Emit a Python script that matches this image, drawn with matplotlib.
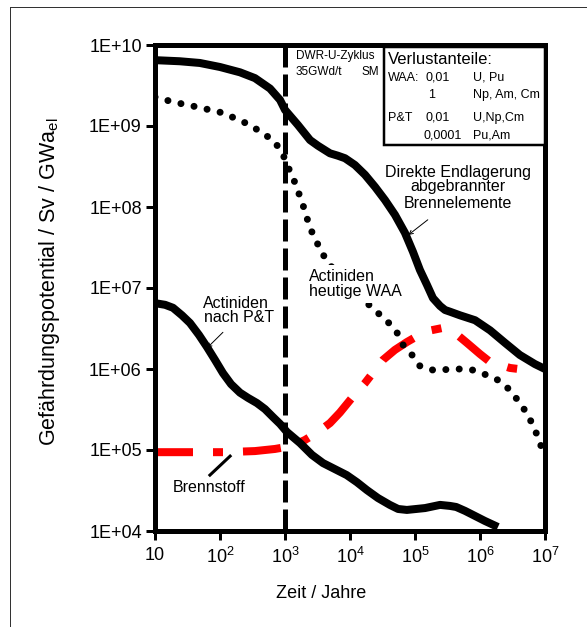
import matplotlib
matplotlib.use("Agg")
from matplotlib import pyplot as plt
from matplotlib.lines import Line2D
from matplotlib.patches import Rectangle
from matplotlib.ticker import NullLocator

plt.rcParams['font.family'] = ['Liberation Sans', 'DejaVu Sans']
plt.rcParams['mathtext.fontset'] = 'custom'
plt.rcParams['mathtext.rm'] = 'Liberation Sans'
plt.rcParams['mathtext.it'] = 'Liberation Sans:italic'

# Direkte Endlagerung abgebrannter Brennelemente
t_direkt = [10, 24, 49, 100, 203, 345, 588, 838, 1000, 1580, 2430, 3220, 4920, 6500, 8380,
            1.19e4, 1.7e4, 2.43e4, 3.45e4, 4.92e4, 7.0e4, 9.3e4, 1.19e5, 1.53e5, 1.89e5,
            2.43e5, 2.9e5, 3.45e5, 4.92e5, 8.4e5, 1.43e6, 2.43e6, 4.1e6, 7.0e6, 1e7]
sv_direkt = [6.5e9, 6.3e9, 6.0e9, 5.35e9, 4.6e9, 3.9e9, 2.9e9, 2.1e9, 1.58e9, 1.03e9, 6.7e8,
             5.7e8, 4.6e8, 4.3e8, 4.0e8, 3.3e8, 2.5e8, 1.77e8, 1.22e8, 8.0e7, 4.8e7, 2.8e7,
             1.67e7, 1.09e7, 7.5e6, 6.0e6, 5.35e6, 5.1e6, 4.6e6, 4.0e6, 3.0e6, 2.1e6, 1.49e6,
             1.15e6, 1.0e6]

# Actiniden heutige WAA
t_waa = [10, 18.9, 44, 111, 290, 653, 900, 1070, 1280, 1830, 2430, 3700, 5880, 1.19e4,
         2.43e4, 3.84e4, 5.3e4, 6.5e4, 9.0e4, 1.19e5, 1.89e5, 4.9e5, 7.8e5, 1.28e6,
         1.89e6, 2.9e6, 4.1e6, 5.5e6, 7.8e6, 1e7]
sv_waa = [2.28e9, 1.98e9, 1.72e9, 1.45e9, 1.03e9, 6.7e8, 4.8e8, 3.3e8, 2.5e8, 1.15e8, 5.5e7,
          2.7e7, 1.58e7, 8.9e6, 5.3e6, 3.8e6, 2.8e6, 2.0e6, 1.49e6, 1.09e6, 9.7e5, 1.0e6,
          9.7e5, 8.4e5, 7.3e5, 5.5e5, 3.8e5, 2.7e5, 1.45e5, 8.0e4]

# Actiniden nach P&T
t_pt = [10, 14.3, 18.9, 26, 34.5, 47.5, 63, 84, 111, 148, 203, 270, 370, 492, 653, 838,
        1070, 1700, 2600, 3840, 5880, 8900, 1.28e4, 1.82e4, 2.7e4, 4.1e4, 5.5e4, 7.5e4,
        1.04e5, 1.43e5, 2.43e5, 3.45e5, 4.3e5, 5.9e5, 7.8e5, 1.19e6, 1.89e6]
sv_pt = [6.5e6, 6.2e6, 5.7e6, 4.6e6, 3.7e6, 2.63e6, 1.87e6, 1.29e6, 8.9e5, 6.5e5, 5.1e5,
         4.4e5, 3.8e5, 3.2e5, 2.55e5, 2.1e5, 1.67e5, 1.22e5, 8.7e4, 6.9e4, 5.8e4, 4.9e4,
         4.0e4, 3.2e4, 2.55e4, 2.1e4, 1.87e4, 1.82e4, 1.87e4, 1.92e4, 2.1e4, 2.04e4, 1.98e4,
         1.77e4, 1.58e4, 1.33e4, 1.12e4]

# Brennstoff
t_bs = [10, 41, 119, 345, 700, 1280, 2030, 3220, 4920, 7000, 1.07e4, 1.7e4, 3.2e4, 4.9e4,
        7.5e4, 1.43e5, 2.6e5, 4.1e5, 6.3e5, 1e6, 1.43e6, 2.9e6, 5.3e6]
sv_bs = [9.4e4, 9.4e4, 9.4e4, 9.7e4, 1.03e5, 1.12e5, 1.33e5, 1.67e5, 2.15e5, 2.9e5, 4.4e5,
         6.7e5, 1.29e6, 1.72e6, 2.15e6, 2.9e6, 3.2e6, 2.8e6, 2.1e6, 1.53e6, 1.22e6, 1.03e6,
         9.7e5]

x_ticks = [10, 1e2, 1e3, 1e4, 1e5, 1e6, 1e7]
x_labels = ['10', r'$\mathregular{10^2}$', r'$\mathregular{10^3}$', r'$\mathregular{10^4}$',
            r'$\mathregular{10^5}$', r'$\mathregular{10^6}$', r'$\mathregular{10^7}$']
y_ticks = [1e4, 1e5, 1e6, 1e7, 1e8, 1e9, 1e10]
y_labels = ['1E+04', '1E+05', '1E+06', '1E+07', '1E+08', '1E+09', '1E+10']

W, H = 587, 627
PX = 0.72  # points per pixel


def fpos(x, y):
    return x / W, 1 - y / H


fig = plt.figure(figsize=(W / 100, H / 100), dpi=100)
ax = fig.add_axes([155 / W, 1 - 531 / H, 390 / W, 486 / H])
ax.set_xscale('log')
ax.set_yscale('log')
ax.set_xlim(10, 1e7)
ax.set_ylim(1e4, 1e10)

ax.plot([1e3, 1e3], [1e10, 1e4], color='black', lw=5 * PX, dashes=(4.4, 1.4),
        dash_capstyle='butt', zorder=2)
ax.plot(t_bs, sv_bs, color='#ff0000', lw=8 * PX, dashes=(4.75, 2.5, 1.25, 2.5),
        dash_capstyle='butt', zorder=2.5)
ax.plot(t_waa, sv_waa, color='black', lw=7 * PX, dashes=(0.01, 1.9),
        dash_capstyle='round', zorder=2.5)
ax.plot(t_direkt, sv_direkt, color='black', lw=8 * PX, solid_joinstyle='round',
        solid_capstyle='butt', zorder=3)
ax.plot(t_pt, sv_pt, color='black', lw=8 * PX, solid_joinstyle='round',
        solid_capstyle='butt', zorder=3)

ax.set_xticks(x_ticks, x_labels)
ax.set_yticks(y_ticks, y_labels)
ax.xaxis.set_minor_locator(NullLocator())
ax.yaxis.set_minor_locator(NullLocator())
ax.tick_params(axis='both', direction='out', length=9 * PX, width=3 * PX, labelsize=13)
ax.tick_params(axis='x', pad=5)
ax.tick_params(axis='y', pad=3)
for s in ax.spines.values():
    s.set_linewidth(5 * PX)

# annotations
ax.annotate('', xy=(7.3e4, 4.3e7), xytext=(1.7e5, 7.3e7),
            arrowprops=dict(arrowstyle='->', lw=0.7, color='black', mutation_scale=7))
ax.annotate('', xy=(59, 1.72e6), xytext=(119, 3.0e6),
            arrowprops=dict(arrowstyle='->', lw=0.7, color='black', mutation_scale=7))
ax.plot([70, 143], [4.9e4, 8.4e4], color='black', lw=2.2, zorder=3)

ann = dict(fontsize=11.5, va='center')
for txt, y in [('Direkte Endlagerung', 172), ('abgebrannter', 187), ('Brennelemente', 203)]:
    fig.text(*fpos(458, y), txt, ha='center', **ann)
fig.text(*fpos(203, 303), 'Actiniden', ha='left', **ann)
fig.text(*fpos(204, 318), 'nach P&T', ha='left', **ann)
fig.text(*fpos(309, 284), 'Actiniden\nheutige WAA', ha='left', linespacing=1.0,
         bbox=dict(fc='white', ec='none', pad=3), zorder=5, **ann)
fig.text(*fpos(173, 487), 'Brennstoff', ha='left', **ann)

fig.text(*fpos(296, 56), 'DWR-U-Zyklus', fontsize=8.5, ha='left', va='center')
fig.text(*fpos(296, 72), '35GWd/t', fontsize=8.5, ha='left', va='center')
fig.text(*fpos(362, 72), 'SM', fontsize=8.5, ha='left', va='center')

# Verlustanteile box
x0, y0 = fpos(384, 145)
x1, y1 = fpos(545, 47)
fig.add_artist(Rectangle((x0, y0), x1 - x0, y1 - y0, transform=fig.transFigure,
                         fc='white', ec='black', lw=2.5 * PX, zorder=4))
fig.text(*fpos(388, 60), 'Verlustanteile:', fontsize=12, ha='left', va='center', zorder=5)
rows = [(78, 'WAA:', 388, '0,01', 425, 'U, Pu'),
        (95, '', 388, '1', 428, 'Np, Am, Cm'),
        (118, 'P&T', 388, '0,01', 425, 'U,Np,Cm'),
        (135, '', 388, '0,0001', 423, 'Pu,Am')]
for y, a, xa, b, xb, c in rows:
    fig.text(*fpos(xa, y), a, fontsize=9, ha='left', va='center', zorder=5)
    fig.text(*fpos(xb, y), b, fontsize=9, ha='left', va='center', zorder=5)
    fig.text(*fpos(473, y), c, fontsize=9, ha='left', va='center', zorder=5)

fig.text(*fpos(50, 282), r'Gefährdungspotential / Sv / GWa$_{\mathregular{el}}$',
         fontsize=15.5, rotation=90, ha='center', va='center')
fig.text(*fpos(321, 593), 'Zeit / Jahre', fontsize=13, ha='center', va='center')

# outer frame (top and left)
fig.add_artist(Line2D([10 / W, 10 / W], [0, 1 - 7 / H], color='#333333', lw=1 * PX))
fig.add_artist(Line2D([10 / W, 1], [1 - 7 / H, 1 - 7 / H], color='#333333', lw=1 * PX))

fig.savefig('out.png', dpi=100)
